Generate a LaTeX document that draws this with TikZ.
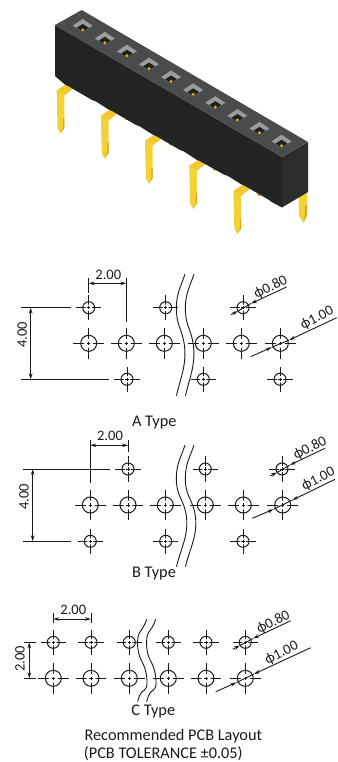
\documentclass[tikz,border=0pt]{standalone}
\usepackage{fontspec}
\usetikzlibrary{arrows.meta}
\setmainfont{Carlito}
\definecolor{ink}{HTML}{1A1A1A}
\definecolor{bodytop}{HTML}{4A4B4D}
\definecolor{bodyfront}{HTML}{222423}
\definecolor{bodyright}{HTML}{2B2C2C}
\definecolor{pinmain}{HTML}{F3D238}
\definecolor{pinlight}{HTML}{F1C92F}
\definecolor{pindark}{HTML}{DDA81E}
\definecolor{sockgray}{HTML}{9B9C9D}
\tikzset{
  x=1pt,y=-1pt,
  lineink/.style={draw=ink,line width=0.9pt},
  holeline/.style={draw=ink,line width=1pt},
  dimarrow/.style={lineink,{Stealth[length=6pt,width=3.6pt]}-{Stealth[length=6pt,width=3.6pt]}},
  leadarrow/.style={lineink,-{Stealth[length=6pt,width=3.6pt]}},
  label/.style={font=\fontsize{16.3}{16.3}\selectfont,text=ink,inner sep=0pt},
  dimlabel/.style={font=\fontsize{14.5}{14.5}\selectfont,text=ink,inner sep=0pt},
}
\newcommand{\holeS}[2]{%
  \draw[holeline] (#1,#2) circle[radius=6];
  \draw[lineink] (#1-12.7,#2) -- (#1+12.7,#2) (#1,#2-12.7) -- (#1,#2+12.7);
  \fill[white] (#1,#2) circle[radius=3.2];
  \draw[draw=ink,line width=0.7pt] (#1-1.6,#2) -- (#1+1.6,#2) (#1,#2-1.6) -- (#1,#2+1.6);
}
\newcommand{\holeL}[2]{%
  \draw[holeline] (#1,#2) circle[radius=8];
  \draw[lineink] (#1-15.3,#2) -- (#1+15.3,#2) (#1,#2-15.3) -- (#1,#2+15.3);
  \fill[white] (#1,#2) circle[radius=4.5];
  \draw[draw=ink,line width=0.7pt] (#1-1.6,#2) -- (#1+1.6,#2) (#1,#2-1.6) -- (#1,#2+1.6);
}
\newcommand{\breakline}[8]{%
  \draw[lineink] (#1,#2) .. controls (#1-5,#2+15) and (#3-1,#4-18) .. (#3,#4)
     .. controls (#3+1,#4+14) and (#5-2,#6-16) .. (#5,#6)
     .. controls (#5+2,#6+20) and (#7+4,#8-18) .. (#7,#8);
}
% leader: tail, inner tip, outer tip, far end
\newcommand{\leaderline}[8]{%
  \draw[lineink] (#3,#4) -- (#5,#6);
  \draw[leadarrow] (#1,#2) -- (#3,#4);
  \draw[leadarrow] (#7,#8) -- (#5,#6);
}
\newcommand{\pinfront}[2]{%
  \begin{scope}[shift={(#1,#2)}]
    \fill[pinlight] (56.7,90.5) -- (67,83.5) -- (75,87) -- (64.3,95.5) -- (57,93) -- cycle;
    \fill[pinmain] (56.7,91) -- (60,92.5) -- (64.3,93) -- (64.3,128) -- (60.5,133.5) -- (57.5,128) -- cycle;
    \fill[pindark] (60.5,133.5) -- (64.3,128) -- (64.3,118) -- (63,118) -- (63,128) -- cycle;
  \end{scope}
}
\begin{document}
\begin{tikzpicture}
\useasboundingbox (0,0) rectangle (337,762);
% --- header: rear pins
\foreach \i in {0,1,2,3}{
  \fill[pindark] (124+\i*44.2,113+\i*25.3) -- (128.5+\i*44.2,116+\i*25.3) -- (128+\i*44.2,120+\i*25.3) -- (125+\i*44.2,120+\i*25.3) -- cycle;
}
\fill[pinmain] (298.5,194) -- (307,190) -- (307,216) -- (303.5,223) -- (299,216) -- cycle;
\fill[pindark] (304,221) -- (306.8,215) -- (306.8,205) -- (305.5,205) -- cycle;
% --- front pins
\foreach \i in {0,1,2,3,4}{ \pinfront{\i*44.2}{\i*25.1} }
% --- header body
\fill[bodyfront] (55,25) -- (282,157) -- (282,207.5)
  -- (272,202.2) -- (268,199.3) -- (244,185.4) -- (241,184.2) -- (228,176) -- (224,174.6)
  -- (200,161.2) -- (197,160) -- (184,151.5) -- (180,150) -- (156,136) -- (153,134.8)
  -- (140,126.5) -- (136,125) -- (112,111) -- (109,109.8) -- (96,101.5) -- (92,100)
  -- (68,86) -- (65,84.6) -- (55,76) -- cycle;
\fill[bodyright] (282,157) -- (308,142) -- (308,192) -- (282,207.5) -- cycle;
\fill[bodytop] (55,25) -- (81.7,10) -- (308,142) -- (282,157) -- cycle;
\foreach \i in {0,...,9}{
  \begin{scope}[shift={(82.7+\i*22.1,25.5+\i*12.86)}]
    \fill[sockgray] (-10,0.2) -- (0,-6.5) -- (10,0.2) -- (5.8,2.5) -- (0,6) -- (-5.8,2.5) -- cycle;
    \fill[black!88] (-5.8,2.2) -- (0,-1.5) -- (5.8,2.2) -- (0,6.2) -- cycle;
    \fill[pindark] (0,4.5) circle[radius=1.7];
  \end{scope}
}
% ============ A type
\foreach \x/\y in {88.7/307.7,165.7/307.7,243/307.7,127/379.3,203.3/379.3,280/379.3}{\holeS{\x}{\y}}
\foreach \x in {88.7,126.3,164.3,203.3,241.3,280.3}{\holeL{\x}{343.3}}
\breakline{185}{274}{176.5}{313}{184.5}{346}{176.5}{395.7}
\breakline{194}{274}{185.5}{313}{193.5}{346}{185.5}{395.7}
\draw[lineink] (88.7,278.3) -- (88.7,293.3) (126.3,278.3) -- (126.3,321.7);
\draw[dimarrow] (88.7,283.3) -- (126.3,283.3);
\node[dimlabel] (aw) at (108.3,274.5) {2.00};
\draw[lineink] (21,307.7) -- (71,307.7) (21,379.3) -- (109,379.3);
\draw[dimarrow] (30.7,307.7) -- (30.7,379.3);
\node[dimlabel,rotate=90] (ah) at (22.3,335) {4.00};
\leaderline{231}{314.7}{238}{311}{251}{303.5}{286.5}{287}
\node[dimlabel,rotate=27] (as) at (270.7,287.3) {ϕ0.80};
\leaderline{250.7}{356.7}{271.7}{347.3}{289.3}{340}{336.7}{317.7}
\node[dimlabel,rotate=27] (al) at (317,318.3) {ϕ1.00};
\node[label] (at) at (154.3,422.3) {A Type};
% ============ B type
\foreach \x/\y in {128/469,205.3/469,282/469,90.3/541.3,165.7/541.3,243/541.3}{\holeS{\x}{\y}}
\foreach \x in {90.3,128,165.3,205.3,243.3,282.7}{\holeL{\x}{505}}
\breakline{185}{445}{176.5}{483}{186.5}{517}{176.5}{566.7}
\breakline{194}{445}{185.5}{483}{195.5}{517}{185.5}{566.7}
\draw[lineink] (90.3,440) -- (90.3,482.7) (128,440) -- (128,451.7);
\draw[dimarrow] (90.3,445.3) -- (128,445.3);
\node[dimlabel] (bw) at (110,435.7) {2.00};
\draw[lineink] (22.7,469) -- (109.7,469) (22.7,541.3) -- (71,541.3);
\draw[dimarrow] (32.7,469) -- (32.7,541.3);
\node[dimlabel,rotate=90] (bh) at (24,496.7) {4.00};
\leaderline{270}{476}{277}{472.5}{290}{465}{325}{448.3}
\node[dimlabel,rotate=27] (bs) at (310,448.3) {ϕ0.80};
\leaderline{252.3}{518.3}{273.5}{509.3}{292.5}{500}{335}{479.3}
\node[dimlabel,rotate=27] (bl) at (318.3,479.3) {ϕ1.00};
\node[label] (bt) at (154,573.3) {B Type};
% ============ C type
\foreach \x in {53.3,91,129.3,168.3,206,245.3}{\holeS{\x}{642.3}\holeL{\x}{678.3}}
\breakline{146.7}{619.3}{137.7}{647}{146.7}{677}{137.7}{701.7}
\breakline{155.7}{619.3}{146.7}{647}{155.7}{677}{146.7}{701.7}
\draw[lineink] (53.3,613.3) -- (53.3,623.3) (91,613.3) -- (91,623.3);
\draw[dimarrow] (53.3,619) -- (91,619);
\node[dimlabel] (cw) at (73.3,609.5) {2.00};
\draw[lineink] (24.3,642.3) -- (35.7,642.3) (24.3,678.3) -- (35.7,678.3);
\draw[dimarrow] (29.3,642.3) -- (29.3,678.3);
\node[dimlabel,rotate=90] (ch) at (20,659) {2.00};
\leaderline{232.7}{649.3}{240}{645.5}{253}{638.5}{290.7}{620.7}
\node[dimlabel,rotate=27] (cs) at (273.3,622.3) {ϕ0.80};
\leaderline{215.7}{691.7}{236.5}{682.5}{254}{674}{310.7}{647.7}
\node[dimlabel,rotate=27] (cl) at (281.7,653.3) {ϕ1.00};
\node[label] (ct) at (153.3,711.7) {C Type};
\node[label] (rec) at (173.3,735.7) {Recommended PCB Layout};
\node[label] (tol) at (163.3,753.6) {(PCB TOLERANCE ±0.05)};
\end{tikzpicture}
\end{document}
